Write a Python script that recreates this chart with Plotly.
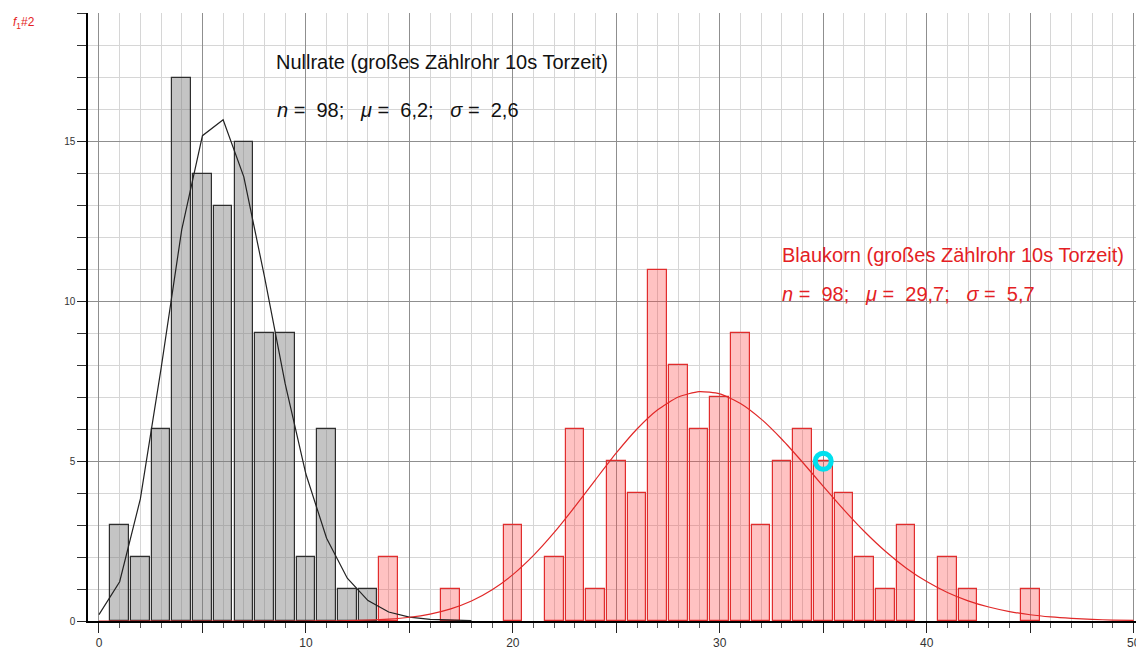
import plotly.graph_objects as go

# ---- data ----
null_x = [1, 2, 3, 4, 5, 6, 7, 8, 9, 10, 11, 12, 13]
null_counts = [3, 2, 6, 17, 14, 13, 15, 9, 9, 2, 6, 1, 1]

blau_x = [14, 17, 20, 22, 23, 24, 25, 26, 27, 28, 29, 30, 31, 32, 33, 34, 35,
          36, 37, 38, 39, 41, 42, 45]
blau_counts = [2, 1, 3, 2, 6, 1, 5, 4, 11, 8, 6, 7, 9, 3, 5, 6, 5,
               4, 2, 1, 3, 2, 1, 1]

# fitted curves (values read at integer points)
null_curve_x = list(range(0, 19))
null_curve_y = [0.20, 1.23, 3.82, 7.90, 12.25, 15.19, 15.69, 13.90, 10.77, 7.42,
                4.60, 2.59, 1.34, 0.64, 0.28, 0.12, 0.05, 0.02, 0.01]

blau_curve_x = list(range(0, 51))
blau_curve_y = [0.0, 0.0, 0.0, 0.0, 0.0, 0.0, 0.0, 0.0, 0.0, 0.0,
                0.0, 0.005, 0.012, 0.028, 0.059, 0.117, 0.217, 0.379, 0.625, 0.977,
                1.451, 2.053, 2.771, 3.578, 4.428, 5.260, 6.009, 6.610, 7.011, 7.18,
                7.108, 6.810, 6.320, 5.688, 4.969, 4.217, 3.479, 2.793, 2.183, 1.662,
                1.234, 0.894, 0.632, 0.437, 0.295, 0.195, 0.126, 0.080, 0.049, 0.030,
                0.018]

marker_x = [35]
marker_y = [5]

x_tickvals = [0, 5, 10, 15, 20, 25, 30, 35, 40, 45, 50]
x_ticktext = ["0", " ", "10", " ", "20", " ", "30", " ", "40", " ", "50"]
y_tickvals = [0, 5, 10, 15]
y_ticktext = ["0", "5", "10", "15"]

null_title = "Nullrate (großes Zählrohr 10s Torzeit)"
null_stats = "<i>n</i> =  98;   <i>μ</i> =  6,2;   <i>σ</i> =  2,6"
blau_title = "Blaukorn (großes Zählrohr 10s Torzeit)"
blau_stats = "<i>n</i> =  98;   <i>μ</i> =  29,7;   <i>σ</i> =  5,7"

RED = "rgb(228,30,36)"

fig = go.Figure()
fig.add_trace(go.Bar(
    x=null_x, y=null_counts, width=0.9,
    marker=dict(color="rgba(125,125,125,0.45)",
                line=dict(color="#2e2e2e", width=1.2)),
    showlegend=False, hoverinfo="x+y"))
fig.add_trace(go.Bar(
    x=blau_x, y=blau_counts, width=0.9,
    marker=dict(color="rgba(255,70,70,0.33)",
                line=dict(color="rgb(225,45,45)", width=1.2)),
    showlegend=False, hoverinfo="x+y"))
fig.add_trace(go.Scatter(
    x=null_curve_x, y=null_curve_y, mode="lines",
    line=dict(color="#222222", width=1.2), showlegend=False))
fig.add_trace(go.Scatter(
    x=blau_curve_x, y=blau_curve_y, mode="lines",
    line=dict(color="rgb(225,40,40)", width=1.2, shape="spline", smoothing=0.6),
    showlegend=False))
fig.add_trace(go.Scatter(
    x=marker_x, y=marker_y, mode="markers",
    marker=dict(symbol="circle-open", size=16, color="#00e0ee",
                line=dict(width=5, color="#00e0ee")),
    showlegend=False))

font_main = "Liberation Sans, Arial, sans-serif"
annos = [
    dict(x=8.45, y=17.5, text=null_title, color="#111111"),
    dict(x=8.5, y=16.0, text=null_stats, color="#111111"),
    dict(x=32.9, y=11.45, text=blau_title, color=RED),
    dict(x=32.9, y=10.25, text=blau_stats, color=RED),
]
for a in annos:
    fig.add_annotation(x=a["x"], y=a["y"], xref="x", yref="y", text=a["text"],
                       showarrow=False, xanchor="left", yanchor="middle",
                       font=dict(family=font_main, size=20, color=a["color"]))

fig.add_annotation(x=-0.073, y=1.0, xref="paper", yref="paper",
                   text="<i>f</i><sub>1</sub>#2", showarrow=False,
                   xanchor="left", yanchor="top",
                   font=dict(family=font_main, size=12, color=RED))

fig.update_layout(
    width=1136, height=654,
    margin=dict(l=80, r=0, t=5, b=41),
    paper_bgcolor="white", plot_bgcolor="white",
    barmode="overlay", bargap=0,
    font=dict(family=font_main),
    xaxis=dict(range=[-0.53, 50.5], tickvals=x_tickvals, ticktext=x_ticktext,
               automargin=False,
               ticks="outside", ticklen=10, tickcolor="#222", tickwidth=1,
               showgrid=True, gridcolor="#8f8f8f", gridwidth=1,
               showline=True, linecolor="black", linewidth=2,
               zeroline=False, tickfont=dict(size=12, color="#333"),
               minor=dict(tick0=0, dtick=1, showgrid=True, gridcolor="#d6d6d6",
                          ticks="outside", ticklen=5, tickcolor="#555")),
    yaxis=dict(range=[0, 19.03], tickvals=y_tickvals, ticktext=y_ticktext,
               automargin=False,
               ticks="outside", ticklen=9, tickcolor="#222",
               showgrid=True, gridcolor="#8f8f8f", gridwidth=1,
               showline=True, linecolor="black", linewidth=1.5,
               zeroline=False, tickfont=dict(size=10, color="#333"),
               minor=dict(tick0=0, dtick=1, showgrid=True, gridcolor="#d6d6d6",
                          ticks="outside", ticklen=9, tickcolor="#333")),
)

fig.write_html("out.html")
